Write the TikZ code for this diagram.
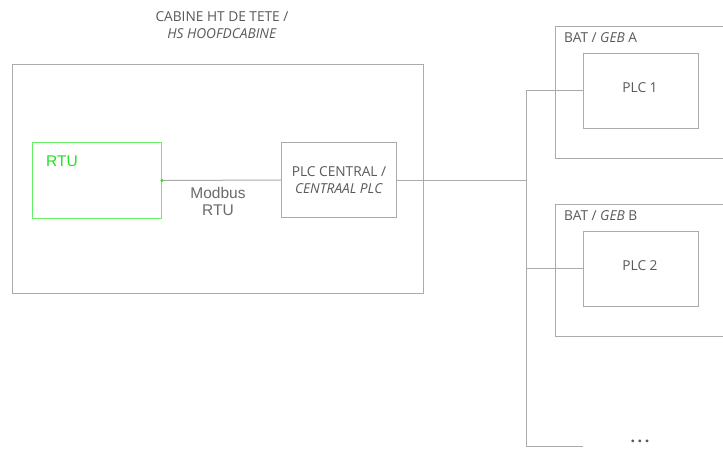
\documentclass[tikz,border=0pt]{standalone}
\usepackage{fontspec}
\setmainfont{Open Sans}
\newfontfamily\arialf{Liberation Sans}
\definecolor{txtgray}{HTML}{595959}
\definecolor{linegray}{HTML}{ABABAB}
\definecolor{boxgreen}{HTML}{66F066}
\definecolor{txtgreen}{HTML}{22E022}
\begin{document}
\begin{tikzpicture}[x=1pt,y=-1pt,
  line/.style={draw=linegray,line width=1pt},
  boxx/.style={draw=linegray,line width=1pt,rectangle,inner sep=0pt,anchor=north west},
  txt/.style={text=txtgray,font=\fontsize{13.7}{16.5}\selectfont,inner sep=0pt,align=center},
  gbox/.style={draw=boxgreen,line width=1pt,rectangle,inner sep=0pt,anchor=north west}]
\clip (0,0) rectangle (723,450);
\fill[white] (0,0) rectangle (723,450);
% title
\node[txt] (title) at (222,25) {CABINE HT DE TETE /\\\textit{HS HOOFDCABINE}};
% cabine box
\node[boxx,minimum width=411pt,minimum height=229pt] (cab) at (12,64) {};
% RTU
\node[gbox,minimum width=129pt,minimum height=76pt] (rtu) at (32,142) {};
\node[anchor=west,inner sep=0pt,text=txtgreen,font=\arialf\fontsize{15.5}{17}\selectfont] (rtulbl) at (46,161) {RTU};
% PLC central
\node[boxx,minimum width=115pt,minimum height=75pt] (plcc) at (281,142) {};
\node[txt] (plcclbl) at (plcc.center) {PLC CENTRAL /\\\textit{CENTRAAL PLC}};
% Modbus
\draw[line] (rtu.east) -- (plcc.west);
\fill[txtgreen] (rtu.east) circle (1.6pt);
\node[txt,text=txtgray!90,font=\arialf\fontsize{15.5}{17}\selectfont] (modbus) at (218,201.5) {Modbus\\RTU};
% BAT A
\node[boxx,minimum width=190pt,minimum height=132pt] (bata) at (555,26) {};
\node[txt,anchor=west] (batalbl) at (564,38) {BAT / \textit{GEB} A};
\node[boxx,minimum width=115pt,minimum height=75pt] (plc1) at (583,53) {};
\node[txt] (plc1lbl) at (640,88) {PLC 1};
% BAT B
\node[boxx,minimum width=190pt,minimum height=132pt] (batb) at (555,204) {};
\node[txt,anchor=west] (batblbl) at (564,216) {BAT / \textit{GEB} B};
\node[boxx,minimum width=115pt,minimum height=75pt] (plc2) at (583,231) {};
\node[txt] (plc2lbl) at (640,266) {PLC 2};
% dots
\node[txt,font=\fontsize{16}{18}\selectfont] (dots) at (640,441) {\textbf{.\hspace{2.5pt}.\hspace{2.5pt}.}};
\coordinate (busx) at (526,0);
\coordinate (busbot) at (526,446);
\coordinate (dotend) at (583,446);
% bus
\draw[line] (plcc.east) -- (plcc.east -| busx);
\draw[line] (plc1.west |- 0,90) -- (busx |- 0,90) -- (busbot) -- (dotend);
\draw[line] (plc2.west |- 0,268) -- (busx |- 0,268);
\end{tikzpicture}
\end{document}
